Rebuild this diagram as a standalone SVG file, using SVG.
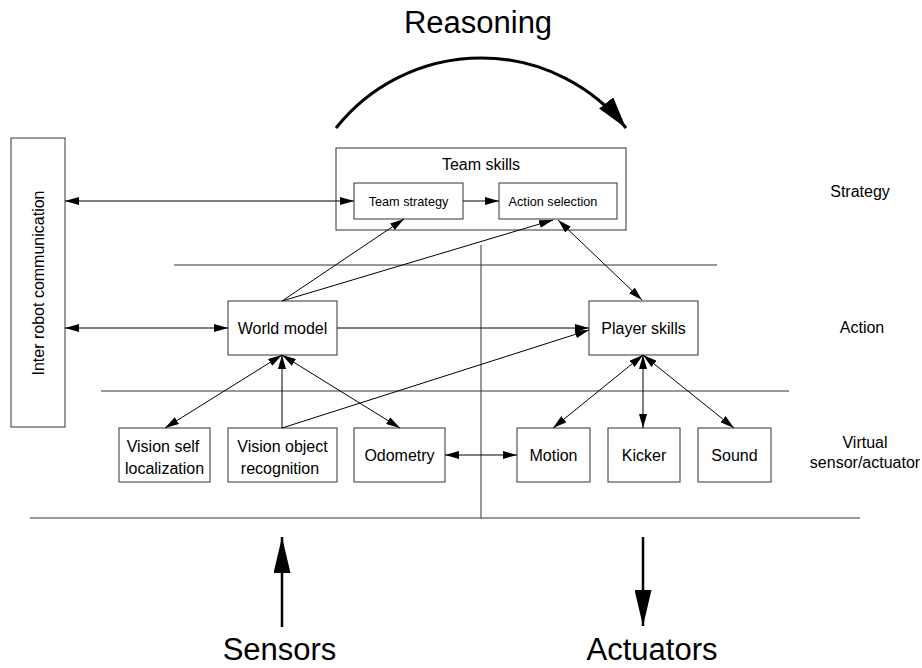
<svg xmlns="http://www.w3.org/2000/svg" width="922" height="668" viewBox="0 0 922 668">
<style>
.box{fill:#fff;stroke:#333;stroke-width:1}
.t{font-family:"Liberation Sans",Arial,sans-serif;fill:#000;text-anchor:middle}
.n{font-size:16px}
.s{font-size:12.700px}
.big{font-size:31px}
.c{stroke:#000;stroke-width:1;fill:none}
.sep{stroke:#333;stroke-width:1;fill:none}
</style>
<defs>
<marker id="ah" viewBox="0 0 14 8" refX="14" refY="4" markerWidth="14" markerHeight="8" markerUnits="userSpaceOnUse" orient="auto-start-reverse">
<path d="M0,0 L14,4 L0,8 z" fill="#000"/>
</marker>
<marker id="arc" viewBox="0 0 32 18" refX="32" refY="9" markerWidth="32" markerHeight="18" markerUnits="userSpaceOnUse" orient="auto">
<path d="M0,0 L32,9 L0,18 z" fill="#000"/>
</marker>
<marker id="big" viewBox="0 0 36 17" refX="36" refY="8.500" markerWidth="36" markerHeight="17" markerUnits="userSpaceOnUse" orient="auto">
<path d="M0,0 L36,8.500 L0,17 z" fill="#000"/>
</marker>
</defs>
<rect width="922" height="668" fill="#fff"/>

<g id="separators">
<line class="sep" x1="174" y1="265" x2="717" y2="265"/>
<line class="sep" x1="101" y1="391" x2="789" y2="391"/>
<line class="sep" x1="30" y1="518" x2="860" y2="518"/>
<line class="sep" x1="481" y1="245" x2="481" y2="518"/>
</g>

<g id="reasoning">
<text class="t big" x="478" y="33">Reasoning</text>
<path d="M336,128 A185,185 0 0 1 626,128" stroke="#000" stroke-width="3" fill="none" marker-end="url(#arc)"/>
</g>

<g id="inter-robot">
<rect class="box" x="11" y="138" width="54" height="289"/>
<text class="t n" transform="translate(44,283) rotate(-90)">Inter robot communication</text>
</g>

<g id="team-skills">
<rect class="box" x="336" y="148" width="290" height="82"/>
<text class="t n" x="481" y="170">Team skills</text>
</g>
<g id="team-strategy">
<rect class="box" x="354" y="183" width="109" height="36"/>
<text class="t s" x="408.500" y="206">Team strategy</text>
</g>
<g id="action-selection">
<rect class="box" x="499" y="183" width="118" height="36"/>
<text class="t s" x="553" y="206">Action selection</text>
</g>

<g id="world-model">
<rect class="box" x="228" y="301" width="109" height="54"/>
<text class="t n" x="282.500" y="334">World model</text>
</g>
<g id="player-skills">
<rect class="box" x="589" y="301" width="109" height="54"/>
<text class="t n" x="643.500" y="334">Player skills</text>
</g>

<g id="vision-self">
<rect class="box" x="119" y="428" width="91" height="54"/>
<text class="t n" x="163" y="452">Vision self</text>
<text class="t n" x="164.500" y="474">localization</text>
</g>
<g id="vision-object">
<rect class="box" x="228" y="428" width="109" height="54"/>
<text class="t n" x="282.500" y="452">Vision object</text>
<text class="t n" x="280" y="474">recognition</text>
</g>
<g id="odometry">
<rect class="box" x="354" y="428" width="91" height="54"/>
<text class="t n" x="399.500" y="461">Odometry</text>
</g>
<g id="motion">
<rect class="box" x="517" y="428" width="73" height="54"/>
<text class="t n" x="553.500" y="461">Motion</text>
</g>
<g id="kicker">
<rect class="box" x="608" y="428" width="72" height="54"/>
<text class="t n" x="644" y="461">Kicker</text>
</g>
<g id="sound">
<rect class="box" x="698" y="428" width="73" height="54"/>
<text class="t n" x="734.500" y="461">Sound</text>
</g>

<g id="layer-labels">
<text class="t n" x="860" y="197">Strategy</text>
<text class="t n" x="862" y="333">Action</text>
<text class="t n" x="865" y="448">Virtual</text>
<text class="t n" x="865" y="468">sensor/actuator</text>
</g>

<g id="connectors">
<line class="c" x1="65" y1="201" x2="354" y2="201" marker-start="url(#ah)" marker-end="url(#ah)"/>
<line class="c" x1="463" y1="201" x2="499" y2="201" marker-end="url(#ah)"/>
<line class="c" x1="65" y1="328" x2="228" y2="328" marker-start="url(#ah)" marker-end="url(#ah)"/>
<line class="c" x1="282" y1="301" x2="404" y2="219" marker-end="url(#ah)"/>
<line class="c" x1="282" y1="301" x2="553" y2="220" marker-end="url(#ah)"/>
<line class="c" x1="558" y1="220" x2="642" y2="300" marker-start="url(#ah)" marker-end="url(#ah)"/>
<line class="c" x1="337" y1="328" x2="589" y2="328" marker-end="url(#ah)"/>
<line class="c" x1="282" y1="428" x2="589" y2="330" marker-end="url(#ah)"/>
<line class="c" x1="282" y1="355" x2="165" y2="428" marker-start="url(#ah)" marker-end="url(#ah)"/>
<line class="c" x1="282" y1="428" x2="282" y2="355" marker-end="url(#ah)"/>
<line class="c" x1="282" y1="355" x2="400" y2="428" marker-start="url(#ah)" marker-end="url(#ah)"/>
<line class="c" x1="445" y1="455" x2="517" y2="455" marker-start="url(#ah)" marker-end="url(#ah)"/>
<line class="c" x1="643" y1="355" x2="553" y2="428" marker-start="url(#ah)" marker-end="url(#ah)"/>
<line class="c" x1="643" y1="355" x2="643" y2="428" marker-start="url(#ah)" marker-end="url(#ah)"/>
<line class="c" x1="643" y1="355" x2="734" y2="428" marker-start="url(#ah)" marker-end="url(#ah)"/>
</g>

<g id="io">
<line x1="282" y1="627" x2="282" y2="537" stroke="#000" stroke-width="2.500" marker-end="url(#big)"/>
<text class="t big" x="279.500" y="660">Sensors</text>
<line x1="643" y1="537" x2="643" y2="626" stroke="#000" stroke-width="2.500" marker-end="url(#big)"/>
<text class="t big" x="652" y="660">Actuators</text>
</g>
</svg>
